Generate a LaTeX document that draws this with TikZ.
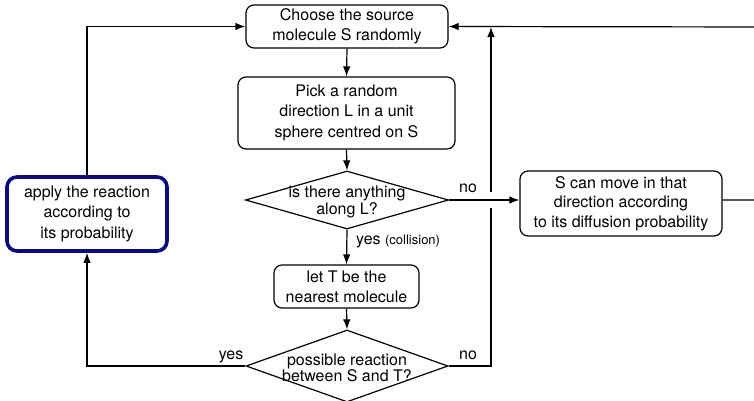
\documentclass[tikz,border=0pt]{standalone}
\usepackage{fontspec}
\setmainfont{TeX Gyre Heros}
\usetikzlibrary{shapes.geometric,arrows.meta}
\definecolor{navy}{RGB}{10,10,140}
\begin{document}
\begin{tikzpicture}[x=1pt,y=-1pt,
  font=\fontsize{16}{20}\selectfont,
  box/.style={draw, rounded corners=8pt, line width=1.2pt, align=center, inner sep=0pt},
  dia/.style={draw, diamond, line width=1.2pt, inner sep=0pt},
  diatext/.style={align=center, inner sep=0pt},
  flow/.style={line width=1.2pt, -{Latex[length=10pt,width=7.5pt]}},
  wire/.style={line width=1.2pt},
  lbl/.style={inner sep=0pt}]
\clip (0,0) rectangle (754,400);
\useasboundingbox (0,0) rectangle (754,400);

% main column
\node[box, minimum width=202pt, minimum height=43pt] (choose) at (347,26.5)
  {Choose the source\\molecule S randomly};
\node[box, minimum width=217pt, minimum height=72pt] (pick) at (346.5,113)
  {Pick a random\\direction L in a unit\\[1.5pt]sphere centred on S};
\node[dia, minimum width=203pt, minimum height=58pt] (d1) at (347,200) {};
\node[diatext, font=\fontsize{16}{17}\selectfont] (d1t) at (347,201.5)
  {is there anything\\along L?};
\node[box, minimum width=145pt, minimum height=43pt] (letT) at (346.5,286.5)
  {let T be the\\nearest molecule};
\node[dia, minimum width=202pt, minimum height=72pt] (d2) at (347,366) {};
\node[diatext, font=\fontsize{16}{16}\selectfont] (d2t) at (347,367.5)
  {possible reaction\\between S and T?};

% side boxes
\node[box, minimum width=202pt, minimum height=65pt] (move) at (621,203.5)
  {S can move in that\\[-0.5pt]direction according\\[-0.5pt]to its diffusion probability};
\node[box, draw=navy, line width=3.6pt, rounded corners=10pt,
      minimum width=160pt, minimum height=74pt] (apply) at (87,214)
  {apply the reaction\\according to\\[1.5pt]its probability};

% labels
\node[lbl, anchor=base] (no1) at (468,192) {no};
\node[lbl, anchor=base] (no2) at (468,359) {no};
\node[lbl, anchor=base] (yes2) at (231,359) {yes};
\node[lbl, anchor=base west] (yes1) at (356,244)
  {yes {\fontsize{13}{13}\selectfont (collision)}};

% helper points
\coordinate (rb) at (772,200);
\coordinate (rt) at (772,27);
\coordinate (jlo) at (491,208);
\coordinate (jhi) at (491,192);

% connectors
\draw[flow] (choose.south) -- (pick.north);
\draw[flow] (pick.south) -- (d1.north);
\draw[flow] (d1.south) -- (letT.north);
\draw[flow] (letT.south) -- (d2.north);
\draw[flow] (d1.east) -- (d1.east -| move.west);
\draw[flow] (move.east |- rb) -- (rb) -- (rt) -- (choose.east);
\draw[flow] (apply.north) -- (apply.north |- choose.west) -- (choose.west);
\draw[flow] (d2.west) -- (d2.west -| apply.south) -- (apply.south);
\draw[wire] (d2.east) -- (d2.east -| jlo) -- (jlo);
\draw[flow] (jhi) -- (jhi |- rt);
\end{tikzpicture}
\end{document}
